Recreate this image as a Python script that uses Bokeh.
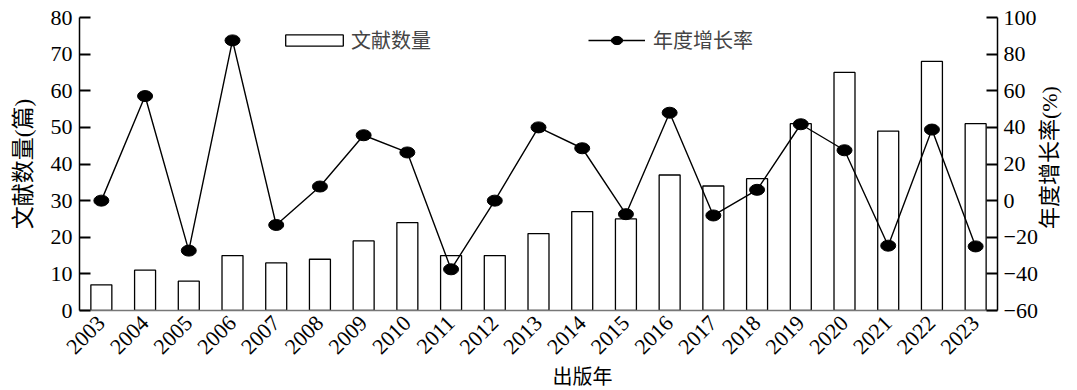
from math import pi
from bokeh.plotting import figure
from bokeh.models import (Range1d, LinearAxis, FactorRange, Legend, LegendItem,
                          FixedTicker, CustomJSTickFormatter, Title)
from bokeh.embed import file_html
from bokeh.resources import INLINE

years = [str(y) for y in range(2003, 2024)]
counts = [7, 11, 8, 15, 13, 14, 19, 24, 15, 15, 21, 27, 25, 37, 34, 36, 51, 65, 49, 68, 51]
growth = [0, 57.1, -27.3, 87.5, -13.3, 7.7, 35.7, 26.3, -37.5, 0, 40.0, 28.6, -7.4,
          48.0, -8.1, 5.9, 41.7, 27.5, -24.6, 38.8, -25.0]
left_ticks = [0, 10, 20, 30, 40, 50, 60, 70, 80]
right_ticks = [-60, -40, -20, 0, 20, 40, 60, 80, 100]

SERIF = "Liberation Serif, Noto Sans CJK SC"

p = figure(x_range=FactorRange(*years), y_range=Range1d(0, 80),
           width=1077, height=390, output_backend="svg", toolbar_location=None,
           min_border_left=79, min_border_right=80, min_border_top=17, min_border_bottom=80)
p.extra_y_ranges = {"g": Range1d(-60, 100)}
p.outline_line_color = None
p.xgrid.visible = False
p.ygrid.visible = False
p.background_fill_color = "white"

bars = p.vbar(x=years, top=counts, width=0.48, fill_color="white",
              line_color="black", line_width=1.3)
line = p.line(x=years, y=growth, y_range_name="g", line_color="black", line_width=1.4)
dots = p.ellipse(x=years, y=growth, width=15, height=11, width_units="screen",
                 height_units="screen", y_range_name="g",
                 fill_color="black", line_color="black")

def style_axis(ax):
    ax.major_tick_in = 11
    ax.major_tick_out = 0
    ax.minor_tick_line_color = None
    ax.axis_line_color = "black"
    ax.axis_line_width = 1.5
    ax.major_tick_line_width = 1.8
    ax.major_tick_line_color = "black"
    ax.major_label_text_font = SERIF
    ax.major_label_text_font_size = "22px"
    ax.major_label_text_color = "black"
    ax.axis_label_text_font = SERIF
    ax.axis_label_text_font_size = "23px"
    ax.axis_label_text_font_style = "normal"
    ax.axis_label_text_color = "black"
    ax.major_label_standoff = 7

ly = p.yaxis[0]
ly.ticker = FixedTicker(ticks=left_ticks)
ly.axis_label = "文献数量(篇)"
style_axis(ly)
ly.axis_label_standoff = 12

# right axis; its title reads bottom-to-top like the reference
ry = LinearAxis(y_range_name="g", ticker=FixedTicker(ticks=right_ticks),
                axis_label="\u3000\u3000\u3000\u2002\u2009年度增长率(%)")
style_axis(ry)
ry.axis_label_text_font_size = "22px"
ry.axis_label_standoff = 9
ry.axis_label_orientation = pi / 2
ry.axis_label_align = "start"
ry.major_label_standoff = 6
ry.formatter = CustomJSTickFormatter(code="return tick < 0 ? '\u2212' + Math.abs(tick) : String(tick);")
p.add_layout(ry, "right")

bx = p.xaxis[0]
style_axis(bx)
bx.major_tick_line_color = None
bx.axis_line_color = "#777777"
bx.major_label_orientation = pi / 4
bx.major_label_text_font_size = "22px"
bx.major_label_standoff = 9

t = Title(text="出版年", align="left", offset=473, text_font=SERIF,
          text_font_size="20px", text_font_style="normal", text_color="black",
          standoff=0)
p.add_layout(t, "below")

leg1 = Legend(items=[LegendItem(label="文献数量", renderers=[bars])],
              orientation="horizontal", location=(199, 256),
              glyph_width=72, glyph_height=14, label_standoff=1,
              label_text_font=SERIF, label_text_font_size="20px",
              padding=0, margin=0, border_line_color=None, background_fill_alpha=0)
leg2 = Legend(items=[LegendItem(label="年度增长率", renderers=[line, dots])],
              orientation="horizontal", location=(509, 256),
              glyph_width=57, glyph_height=14, label_standoff=8,
              label_text_font=SERIF, label_text_font_size="20px",
              padding=0, margin=0, border_line_color=None, background_fill_alpha=0)
p.add_layout(leg1, "center")
p.add_layout(leg2, "center")

open("out.html", "w").write(file_html(p, INLINE))
